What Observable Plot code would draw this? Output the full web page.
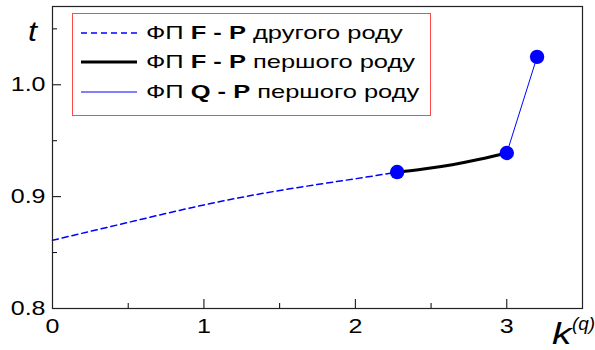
<!DOCTYPE html>
<html><head><meta charset="utf-8">
<script src="https://cdn.jsdelivr.net/npm/d3@7"></script>
<script src="https://cdn.jsdelivr.net/npm/@observablehq/plot@0.6"></script>
<style>
body{margin:0;background:#fff;font-family:"Liberation Sans",Arial,sans-serif;}
#wrap{position:relative;width:595px;height:350px;overflow:hidden;}
.lab{position:absolute;font-style:italic;color:#000;line-height:1;transform-origin:0 50%;white-space:nowrap;}
#legend{position:absolute;left:72px;top:13px;width:357px;height:101px;border:1px solid #ff4a4a;background:#fff;}
.row{position:absolute;left:7px;height:29px;display:flex;align-items:center;font-size:19px;color:#000;white-space:nowrap;}
.row svg{margin-right:8px;flex:none;}
.row span{display:inline-block;transform:scaleX(1.34);transform-origin:0 50%;}
</style></head>
<body><div id="wrap"></div>
<script>
// Data
const dashedK = [0, 0.5, 1, 1.5, 2, 2.276];
const dashedT = [0.861, 0.877, 0.8926, 0.9055, 0.916, 0.922];
const solidK = [2.276, 2.45, 2.64, 2.82, 3.0];
const solidT = [0.922, 0.9248, 0.9286, 0.9334, 0.939];
const qK = [3.0, 3.2];
const qT = [0.939, 1.025];
const pointK = [2.276, 3.0, 3.2];
const pointT = [0.922, 0.939, 1.025];
const xMajor = [0, 1, 2, 3];
const xMinor = [0.5, 1.5, 2.5];
const yMajor = [0.8, 0.9, 1.0];
const yMinor = [0.85, 0.95, 1.05];
const legendLabels = [
  ["ФП ", "F - P", " другого роду"],
  ["ФП ", "F - P", " першого роду"],
  ["ФП ", "Q - P", " першого роду"]
];

const zip = (a, b) => a.map((v, i) => ({k: v, t: b[i]}));
const W = 595, H = 350, mL = 52, mR = 13, mT = 6, mB = 42;
const pw = W - mL - mR, ph = H - mT - mB;

const chart = Plot.plot({
  width: W, height: H,
  marginLeft: mL, marginRight: mR, marginTop: mT, marginBottom: mB,
  style: {fontFamily: "Liberation Sans, Arial, sans-serif", fontSize: "20px", background: "#fff", color: "#000"},
  x: {domain: [0, 3.5]},
  y: {domain: [0.8, 1.07]},
  marks: [
    Plot.axisX({ticks: xMajor, tickSize: 0, tickPadding: 10, tickFormat: d3.format("d"), label: null}),
    Plot.axisY({ticks: yMajor, tickSize: 0, tickPadding: 7, tickFormat: d3.format(".1f"), label: null}),
    Plot.tickX(xMajor, {x: d => d, insetTop: ph - 9, stroke: "#000"}),
    Plot.tickX(xMinor, {x: d => d, insetTop: ph - 5, stroke: "#000"}),
    Plot.tickY(yMajor, {y: d => d, insetRight: pw - 9, stroke: "#000"}),
    Plot.tickY(yMinor, {y: d => d, insetRight: pw - 5, stroke: "#000"}),
    Plot.line(zip(dashedK, dashedT), {x: "k", y: "t", stroke: "#0000ff", strokeWidth: 1.5, strokeDasharray: "6,4", curve: "natural"}),
    Plot.line(zip(solidK, solidT), {x: "k", y: "t", stroke: "#000", strokeWidth: 3, curve: "natural"}),
    Plot.line(zip(qK, qT), {x: "k", y: "t", stroke: "#0000ff", strokeWidth: 1}),
    Plot.dot(zip(pointK, pointT), {x: "k", y: "t", r: 7.2, fill: "#0000ff", stroke: "none"}),
    Plot.frame({stroke: "#222", strokeWidth: 1.2})
  ]
});
const wrap = document.getElementById("wrap");
chart.style.position = "absolute";
chart.style.left = "0"; chart.style.top = "0";
wrap.appendChild(chart);
// horizontally stretch tick labels (as in the reference) via textLength
chart.querySelectorAll('g[aria-label$="tick label"] text').forEach(t => {
  const len = t.getComputedTextLength();
  if (len > 0) {
    t.setAttribute("textLength", (len * 1.25).toFixed(2));
    t.setAttribute("lengthAdjust", "spacingAndGlyphs");
  }
});

// axis titles
const tl = document.createElement("div");
tl.className = "lab"; tl.style.left = "28px"; tl.style.top = "19px"; tl.style.fontSize = "27px";
tl.style.transform = "scaleX(1.2)";
tl.textContent = "t";
wrap.appendChild(tl);
const kl = document.createElement("div");
kl.className = "lab"; kl.style.left = "552px"; kl.style.top = "319px"; kl.style.fontSize = "30px";
kl.style.transform = "scaleX(1.3)";
kl.textContent = "k";
wrap.appendChild(kl);
const ql = document.createElement("div");
ql.className = "lab"; ql.style.left = "572px"; ql.style.top = "315px"; ql.style.fontSize = "18px";
ql.style.transform = "scaleX(1.05)";
ql.textContent = "(q)";
wrap.appendChild(ql);

// legend
const lg = document.createElement("div");
lg.id = "legend";
const styles = [
  {stroke: "#0000ff", w: 1.5, dash: "6,4"},
  {stroke: "#000", w: 3, dash: null},
  {stroke: "#0000ff", w: 1, dash: null}
];
legendLabels.forEach((parts, i) => {
  const r = document.createElement("div");
  r.className = "row";
  r.style.top = (4 + i * 29.5) + "px";
  const s = styles[i];
  r.innerHTML = `<svg width="58" height="10"><line x1="1" x2="57" y1="5" y2="5" stroke="${s.stroke}" stroke-width="${s.w}" ${s.dash ? `stroke-dasharray="${s.dash}"` : ""}/></svg><span>${parts[0]}<b>${parts[1]}</b>${parts[2]}</span>`;
  lg.appendChild(r);
});
wrap.appendChild(lg);
</script></body></html>
